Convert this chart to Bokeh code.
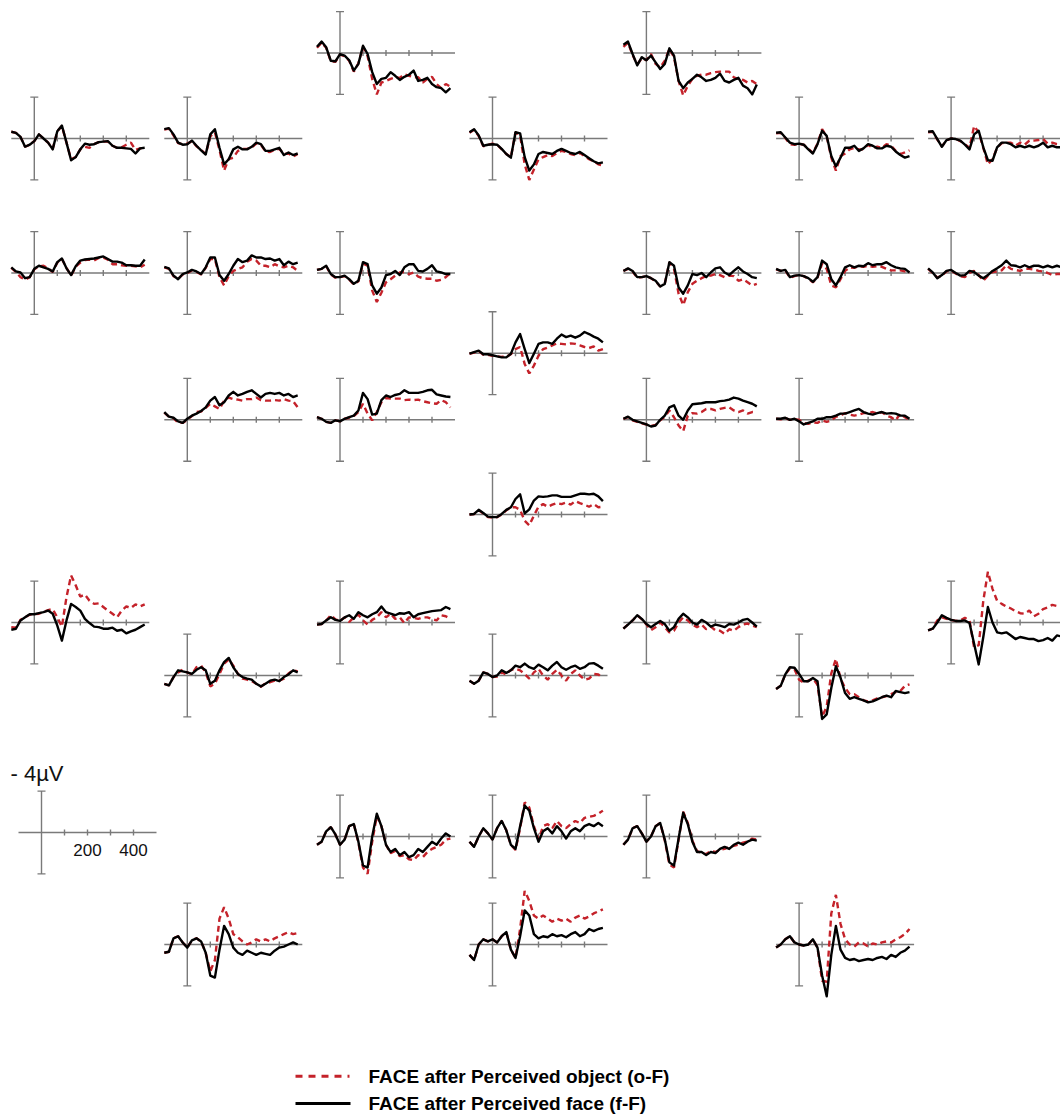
from bokeh.plotting import figure
from bokeh.models import Range1d, Spacer
from bokeh.layouts import row, column
from bokeh.embed import file_html
from bokeh.resources import INLINE
from bokeh.core.properties import value

# ---------------- data (µV, negative plotted up) ----------------
TIMES_MS = [-100, -80, -60, -40, -20, 0, 20, 40, 60, 80, 100, 120, 140, 160, 180,
            200, 220, 240, 260, 280, 300, 320, 340, 360, 380, 400, 420, 440, 460, 480]

# fF = FACE after Perceived face (black), oF = FACE after Perceived object (red dashed)
p01_fF = [-0.6, -1.1, -0.55, 0.75, 0.8, 0.1, 0.25, 0.7, 1.7, 1.05, -0.7, 0.1, 1.85, 3.0, 2.5, 2.4, 1.85, 2.2, 2.6, 2.3, 2.1, 1.7, 2.7, 2.6, 2.4, 3.0, 3.3, 3.4, 3.8, 3.4]
p01_oF = [-0.5, -1.0, -0.5, 0.8, 0.85, 0.15, 0.3, 0.75, 1.8, 1.0, -0.6, 0.3, 2.5, 4.0, 2.85, 2.7, 2.5, 2.35, 2.4, 2.05, 2.2, 2.35, 2.35, 2.85, 2.5, 2.3, 3.0, 3.4, 3.0, 3.25]
p02_fF = [-0.8, -1.1, 0.1, 1.2, 0.4, 0.7, 0.25, 0.9, 1.55, 1.05, -0.45, 0.25, 2.7, 3.4, 2.85, 2.5, 2.1, 2.35, 2.7, 2.6, 2.4, 2.0, 2.7, 2.85, 2.6, 2.4, 3.15, 3.4, 4.0, 3.05]
p02_oF = [-0.6, -1.0, 0.2, 1.1, 0.5, 0.7, 0.1, 1.05, 1.4, 0.75, -0.4, 0.4, 2.7, 4.1, 3.15, 2.5, 2.2, 2.1, 2.1, 1.95, 1.85, 1.8, 1.8, 1.8, 2.35, 2.5, 2.6, 2.85, 2.7, 3.0]
p03_fF = [-0.65, -0.55, -0.15, 0.8, 0.6, 0.25, -0.4, 0.0, 0.4, 1.05, -0.7, -1.25, 0.4, 2.1, 1.8, 1.05, 0.5, 0.6, 0.55, 0.35, 0.3, 0.25, 0.7, 0.9, 0.9, 0.95, 1.0, 1.45, 0.95, 0.9]
p03_oF = [-0.65, -0.55, -0.15, 0.8, 0.6, 0.25, -0.4, 0.0, 0.4, 1.0, -0.7, -1.2, 0.4, 2.0, 1.8, 1.05, 0.8, 0.9, 0.55, 0.35, 0.3, 0.3, 0.7, 0.9, 0.85, 0.6, 0.4, 1.1, 0.95, 0.9]
p04_fF = [-0.9, -1.0, -0.4, 0.4, 0.6, 0.55, 0.2, 0.7, 1.15, 1.55, -0.4, -0.9, 0.9, 2.5, 2.0, 1.05, 0.8, 1.05, 1.05, 0.8, 0.4, 0.55, 1.2, 1.2, 1.05, 0.9, 1.6, 1.35, 1.6, 1.45]
p04_oF = [-0.85, -0.95, -0.3, 0.45, 0.55, 0.5, 0.25, 0.75, 1.1, 1.5, -0.2, -0.6, 1.1, 3.1, 2.0, 1.85, 1.2, 1.0, 1.0, 0.85, 0.5, 0.6, 1.25, 1.3, 1.1, 1.0, 1.5, 1.45, 1.75, 1.5]
p05_fF = [-0.6, -0.9, -0.3, 0.7, 0.6, 0.55, 0.6, 1.0, 1.5, 1.85, -0.6, -0.5, 1.8, 3.1, 2.5, 1.5, 1.3, 1.4, 1.5, 1.2, 1.0, 1.2, 1.4, 1.5, 1.3, 1.6, 1.9, 2.2, 2.4, 2.3]
p05_oF = [-0.55, -0.85, -0.25, 0.75, 0.6, 0.5, 0.6, 1.05, 1.5, 1.8, -0.6, -0.3, 2.5, 4.0, 3.0, 2.0, 1.8, 1.6, 1.7, 1.4, 1.2, 1.3, 1.5, 1.6, 1.4, 1.7, 2.0, 2.2, 2.5, 2.6]
p06_fF = [-0.55, -0.6, -0.1, 0.4, 0.55, 0.5, 0.6, 1.05, 1.45, 0.55, -0.75, -0.25, 1.7, 2.7, 1.85, 0.9, 0.9, 0.7, 1.2, 0.95, 0.55, 0.7, 0.95, 0.95, 0.7, 0.8, 1.25, 1.6, 1.85, 1.7]
p06_oF = [-0.5, -0.55, -0.05, 0.55, 0.6, 0.5, 0.6, 1.0, 1.4, 0.5, -0.9, -0.2, 1.85, 3.1, 1.7, 1.45, 1.05, 0.9, 1.05, 1.05, 0.6, 0.9, 0.8, 0.9, 0.55, 0.7, 1.2, 1.5, 1.35, 1.15]
p07_fF = [-0.65, -0.7, 0.05, 0.8, 0.15, 0.0, 0.05, 0.2, 0.6, 1.05, -0.4, -0.75, 0.85, 2.1, 2.15, 0.85, 0.4, 0.4, 0.55, 0.85, 0.7, 0.85, 0.7, 0.85, 0.7, 0.4, 0.85, 0.7, 0.85, 0.85]
p07_oF = [-0.6, -0.65, 0.1, 0.75, 0.2, 0.0, 0.05, 0.25, 0.55, 0.9, -1.2, -0.6, 0.9, 2.5, 2.0, 0.9, 0.45, 0.4, 0.4, 0.7, 0.4, 0.6, 0.2, 0.2, 0.15, 0.05, 0.5, 0.4, 0.55, 0.55]
p08_fF = [-0.55, -0.15, -0.05, 0.5, 0.4, -0.4, -0.7, -0.55, -0.4, -0.15, -1.05, -1.4, -0.45, 0.2, -0.65, -1.2, -1.3, -1.35, -1.4, -1.5, -1.6, -1.35, -1.1, -1.1, -1.0, -0.75, -0.75, -0.7, -0.7, -1.3]
p08_oF = [-0.5, -0.1, 0.4, 0.65, 0.4, -0.35, -0.65, -0.7, -0.45, -0.1, -1.0, -1.35, -0.5, 0.25, -0.6, -1.0, -1.25, -1.3, -1.2, -1.45, -1.5, -1.3, -0.85, -0.85, -0.75, -0.7, -0.7, -0.65, -0.55, -0.8]
p09_fF = [-0.6, -0.45, 0.25, 0.6, 0.1, -0.05, -0.3, -0.15, 0.1, -0.55, -1.5, -1.5, 0.2, 0.75, 0.1, -0.7, -1.35, -1.05, -1.2, -1.7, -1.5, -1.5, -1.35, -1.4, -1.2, -1.35, -0.75, -1.1, -0.85, -1.0]
p09_oF = [-0.55, -0.4, 0.3, 0.55, 0.15, 0.0, -0.25, -0.1, 0.15, -0.5, -1.35, -1.35, 0.4, 1.2, 0.3, -0.2, -0.4, -0.55, -1.1, -1.35, -1.2, -0.7, -0.7, -0.55, -0.85, -0.65, -0.55, -0.7, -0.55, -0.2]
p10_fF = [-0.3, -0.4, -0.7, 0.1, 0.4, 0.4, 0.25, 0.6, 1.05, 0.75, -1.05, -0.85, 1.2, 2.0, 1.4, 0.2, 0.1, -0.2, 0.2, -0.55, -0.85, -0.85, -0.2, -0.15, -0.4, -0.75, -0.15, -0.05, 0.1, 0.1]
p10_oF = [-0.3, -0.4, -0.65, 0.15, 0.45, 0.4, 0.3, 0.65, 1.1, 0.8, -0.9, -0.7, 1.7, 2.8, 1.9, 0.9, 0.6, 0.25, -0.05, -0.1, 0.1, -0.05, 0.35, 0.5, 0.55, 0.55, 0.75, 0.65, 0.4, 0.0]
p11_fF = [-0.2, -0.45, -0.2, 0.4, 0.4, 0.3, 0.5, 0.75, 1.3, 1.05, -1.05, -0.7, 1.4, 2.0, 1.2, 0.1, 0.2, 0.0, 0.4, -0.05, -0.45, -0.55, -0.05, 0.2, -0.2, -0.55, -0.15, 0.1, 0.4, 0.5]
p11_oF = [-0.2, -0.4, -0.15, 0.45, 0.4, 0.3, 0.5, 0.8, 1.3, 1.0, -1.05, -0.4, 2.0, 3.1, 1.85, 1.05, 0.75, 0.5, 0.3, 0.25, 0.1, 0.2, 0.4, 0.25, 0.3, 0.75, 0.6, 0.9, 1.2, 1.05]
p12_fF = [-0.4, -0.2, -0.3, 0.4, 0.25, 0.2, 0.3, 0.5, 0.85, 0.4, -1.2, -0.85, 0.6, 1.2, 0.4, -0.55, -0.75, -0.55, -0.7, -0.65, -0.95, -0.75, -0.85, -0.85, -1.05, -0.75, -0.55, -0.45, -0.4, -0.05]
p12_oF = [-0.35, -0.2, -0.25, 0.45, 0.3, 0.2, 0.3, 0.55, 0.9, 0.45, -0.9, -0.4, 1.2, 1.4, 0.6, -0.2, -0.55, -0.5, -0.65, -0.6, -0.7, -0.6, -0.65, -0.6, -0.4, -0.25, -0.25, -0.25, -0.15, 0.0]
p13_fF = [-0.45, -0.05, 0.5, 0.2, -0.2, -0.3, 0.0, 0.25, 0.2, -0.2, -0.1, 0.25, 0.5, 0.2, -0.2, -0.45, -0.75, -1.2, -0.75, -0.7, -0.55, -0.75, -0.55, -0.7, -0.7, -0.55, -0.7, -0.55, -0.7, -0.55]
p13_oF = [-0.4, 0.0, 0.45, 0.25, -0.15, -0.25, 0.05, 0.3, 0.4, 0.0, -0.2, 0.2, 0.75, 0.25, -0.1, -0.15, -0.25, -0.75, -0.4, -0.3, -0.2, -0.4, -0.4, -0.35, -0.2, -0.15, 0.0, 0.2, 0.1, 0.1]
p14_fF = [0.05, -0.1, -0.25, 0.1, 0.1, 0.2, 0.3, 0.4, 0.4, 0.05, -1.05, -1.85, -0.4, 0.95, 0.05, -0.9, -1.05, -1.05, -0.9, -1.4, -1.8, -1.55, -1.7, -1.5, -1.7, -2.05, -1.85, -1.6, -1.4, -1.05]
p14_oF = [0.05, -0.05, -0.2, 0.15, 0.15, 0.25, 0.3, 0.35, 0.35, 0.1, -0.4, -0.6, 1.05, 1.95, 1.2, 0.25, -0.4, -0.55, -0.75, -0.95, -0.9, -0.85, -0.95, -0.9, -0.75, -0.6, -0.5, -0.65, -0.25, -0.4]
p15_fF = [-0.75, -0.3, -0.2, 0.15, 0.3, -0.1, -0.4, -0.6, -0.85, -1.2, -1.85, -2.2, -1.4, -1.7, -2.35, -2.7, -2.35, -2.5, -2.7, -2.85, -2.5, -2.15, -2.5, -2.6, -2.5, -2.6, -2.35, -2.5, -2.2, -2.35]
p15_oF = [-0.7, -0.3, -0.15, 0.3, 0.3, 0.0, -0.35, -0.75, -0.8, -1.15, -1.55, -1.3, -1.05, -1.85, -2.15, -2.0, -1.95, -1.85, -2.0, -2.0, -2.15, -1.9, -1.85, -1.85, -1.9, -1.85, -2.0, -1.85, -1.8, -1.2]
p16_fF = [-0.25, -0.1, 0.2, 0.3, 0.05, 0.15, -0.1, -0.25, -0.4, -0.9, -2.6, -2.0, -0.5, -0.6, -1.9, -2.35, -2.2, -2.4, -2.5, -2.85, -2.6, -2.6, -2.6, -2.7, -2.85, -2.9, -2.45, -2.35, -2.25, -2.2]
p16_oF = [-0.25, -0.1, 0.2, 0.3, 0.05, 0.15, -0.1, -0.2, -0.35, -0.75, -1.55, -0.6, 0.05, -0.75, -1.7, -2.1, -2.05, -2.05, -2.05, -1.9, -1.95, -1.9, -1.95, -1.8, -1.7, -1.6, -1.55, -1.9, -1.7, -1.2]
p17_fF = [-0.1, -0.3, 0.0, 0.15, 0.3, 0.45, 0.65, 0.55, 0.0, -0.4, -1.2, -1.4, -0.4, 0.0, -0.9, -1.5, -1.55, -1.6, -1.7, -1.7, -1.7, -1.8, -1.85, -1.95, -2.15, -2.05, -1.85, -1.7, -1.55, -1.3]
p17_oF = [-0.1, -0.25, 0.05, 0.2, 0.35, 0.45, 0.6, 0.5, 0.05, -0.3, -0.9, -0.25, 0.55, 1.1, -0.4, -0.65, -0.6, -0.75, -1.05, -1.05, -0.9, -1.05, -1.15, -1.2, -0.9, -0.75, -0.9, -0.6, -0.75, -0.75]
p18_fF = [-0.1, -0.1, -0.2, 0.0, -0.1, 0.15, 0.45, 0.3, 0.15, -0.1, -0.1, -0.25, -0.25, -0.4, -0.6, -0.6, -0.75, -0.9, -1.05, -0.75, -0.6, -0.5, -0.65, -0.75, -0.6, -0.65, -0.6, -0.4, -0.4, -0.1]
p18_oF = [-0.1, -0.05, -0.15, 0.0, -0.05, 0.0, 0.3, 0.4, 0.25, 0.3, 0.05, 0.2, 0.05, -0.3, -0.4, -0.65, -0.5, -0.4, -0.5, -0.65, -0.65, -0.75, -0.6, -0.75, -0.4, -0.25, 0.05, -0.6, -0.25, 0.0]
p19_fF = [0.0, -0.05, -0.45, -0.15, 0.2, 0.25, 0.25, -0.05, -0.45, -0.7, -1.5, -1.95, -0.1, -0.5, -1.35, -1.75, -1.7, -1.75, -1.85, -1.85, -1.7, -1.7, -1.7, -1.85, -2.0, -2.0, -1.95, -2.0, -1.75, -1.3]
p19_oF = [0.0, -0.05, -0.4, -0.1, 0.25, 0.3, 0.25, 0.0, -0.4, -0.7, -0.7, -0.45, 0.6, 1.05, 0.1, -0.75, -1.0, -0.75, -0.95, -1.1, -1.0, -1.15, -0.95, -1.3, -1.1, -0.95, -0.75, -1.0, -0.7, -0.75]
p20_fF = [0.7, 0.6, -0.2, -0.5, -0.8, -0.8, -0.9, -1.0, -1.15, -0.85, 0.3, 1.75, -0.2, -1.8, -1.5, -1.15, -0.35, 0.05, 0.4, 0.45, 0.6, 0.6, 0.5, 0.8, 0.7, 1.05, 0.85, 0.7, 0.45, 0.2]
p20_oF = [0.45, 0.5, -0.25, -0.5, -0.75, -0.8, -0.85, -1.0, -1.2, -1.3, -0.5, 0.4, -2.45, -4.55, -3.6, -2.5, -2.7, -2.1, -1.8, -1.85, -1.5, -1.15, -0.85, -0.5, -1.15, -1.55, -1.4, -1.75, -1.55, -1.75]
p21_fF = [0.2, 0.15, -0.2, -0.5, -0.25, -0.15, -0.5, -0.7, -0.35, -1.0, -0.7, -0.5, -0.8, -1.0, -1.55, -1.0, -0.85, -0.7, -0.9, -0.85, -1.0, -0.5, -0.8, -0.9, -1.0, -1.1, -1.15, -1.2, -1.5, -1.3]
p21_oF = [0.2, 0.15, -0.2, -0.7, -0.3, -0.15, -0.5, -0.05, -0.5, -0.75, -0.2, 0.2, -0.25, -0.5, -1.0, -0.5, -0.85, -0.35, -0.5, 0.05, -0.5, -0.45, -0.35, -0.5, -0.5, -0.35, -0.2, -0.7, -0.6, -0.35]
p22_fF = [0.6, 0.2, -0.2, -0.7, -0.35, 0.15, 0.45, 0.15, -0.15, 0.15, 0.8, 0.45, -0.35, -0.85, -0.5, 0.0, 0.2, -0.25, 0.0, 0.4, 0.2, 0.3, 0.45, 0.15, 0.2, 0.0, -0.25, -0.35, 0.0, 0.4]
p22_oF = [0.6, 0.2, -0.2, -0.7, -0.3, 0.2, 0.75, 0.45, 0.0, 0.45, 0.95, 0.8, 0.0, -0.5, -0.2, 0.2, 0.45, 0.2, 0.65, 0.4, 0.75, 0.8, 1.1, 0.65, 0.8, 0.45, 0.2, 0.1, 0.3, 0.45]
p23_fF = [0.75, 0.6, 0.0, -0.7, -0.45, -0.25, -0.15, -0.15, -0.2, 0.05, 2.05, 4.05, 1.4, -1.5, 0.0, 0.95, 1.05, 0.95, 1.25, 1.6, 1.4, 1.5, 1.6, 1.6, 1.8, 1.7, 1.5, 1.75, 1.25, 1.35]
p23_oF = [0.75, 0.6, -0.2, -0.5, -0.35, -0.25, -0.15, -0.2, -0.45, -0.2, 2.4, 2.2, -2.1, -4.9, -3.25, -2.1, -1.8, -1.55, -1.35, -1.1, -0.9, -0.85, -1.15, -0.6, -0.85, -1.3, -1.45, -1.7, -1.6, -1.65]
p24_fF = [0.8, 0.95, 0.15, -0.5, -0.4, -0.3, -0.15, -0.55, -0.8, -0.5, 0.8, 0.5, -0.5, -1.3, -1.7, -0.8, -0.15, 0.15, 0.3, 0.4, 0.8, 1.05, 0.8, 0.5, 0.4, 0.55, 0.15, -0.1, -0.5, -0.3]
p24_oF = [0.8, 0.95, 0.15, -0.3, -0.55, -0.3, -0.1, -0.8, -0.95, -0.3, 1.05, 0.8, -0.15, -1.15, -1.55, -0.95, -0.15, 0.3, 0.4, 0.55, 0.8, 1.1, 0.75, 0.65, 0.5, 0.5, 0.3, -0.2, -0.5, -0.4]
p25_fF = [0.5, 0.8, 0.5, -0.3, -0.15, 0.15, 0.0, -0.5, -0.25, -0.5, -0.95, -0.8, -1.15, -0.8, -0.65, -1.05, -0.8, -0.5, -0.95, -1.3, -0.8, -0.55, -0.8, -0.95, -0.65, -0.8, -1.15, -1.2, -0.95, -0.65]
p25_oF = [0.5, 0.8, 0.5, -0.3, -0.15, 0.15, 0.1, -0.3, -0.1, -0.55, -0.65, -0.5, -0.15, 0.3, -0.3, -0.65, 0.0, 0.4, -0.15, -0.55, 0.0, 0.5, -0.15, -0.5, 0.0, 0.4, 0.3, -0.15, -0.1, 0.25]
p26_fF = [1.3, 1.0, -0.1, -0.8, -0.75, -0.15, 0.55, 0.55, 0.25, 0.55, 4.2, 3.75, 1.2, -0.9, 0.2, 1.7, 2.25, 2.1, 2.25, 2.4, 2.6, 2.5, 2.3, 2.1, 1.95, 2.1, 1.5, 1.6, 1.7, 1.6]
p26_oF = [1.3, 1.0, -0.1, -0.7, -0.6, 0.4, 0.7, 0.5, 0.3, 0.9, 4.0, 3.0, -0.2, -1.6, 0.3, 1.2, 1.8, 1.8, 2.1, 2.4, 2.5, 2.4, 2.2, 2.1, 2.0, 1.8, 1.6, 1.5, 1.0, 0.85]
p27_fF = [0.8, 0.5, -0.5, -0.9, -0.2, 0.8, 0.3, -1.0, -1.2, 0.5, 2.8, 3.0, 0.0, -2.2, -1.0, 0.8, 1.5, 1.2, 1.8, 1.5, 2.0, 1.8, 1.2, 1.5, 1.0, 0.5, 0.8, 0.2, -0.3, 0.0]
p27_oF = [0.8, 0.5, -0.5, -0.9, -0.2, 0.8, 0.3, -1.0, -1.2, 0.6, 3.0, 3.6, 0.5, -2.0, -1.0, 0.8, 1.6, 1.4, 1.9, 1.8, 2.2, 2.3, 1.8, 2.0, 1.5, 1.2, 1.0, 0.8, 0.3, 0.2]
p28_fF = [0.5, 1.0, 0.0, -0.8, -0.3, 0.3, -0.8, -1.5, -0.6, 0.8, 1.2, -1.0, -3.0, -2.5, -0.8, 0.5, -0.5, -0.8, -0.3, -1.0, -0.5, 0.2, -0.5, -0.8, -0.5, -1.0, -1.2, -1.0, -1.3, -1.0]
p28_oF = [0.5, 1.0, 0.0, -0.8, -0.3, 0.3, -0.8, -1.5, -0.6, 0.8, 1.3, -0.8, -3.3, -2.8, -1.0, 0.3, -1.0, -1.2, -0.8, -1.5, -1.0, -0.8, -1.2, -1.5, -1.3, -1.8, -1.9, -2.0, -2.2, -2.5]
p29_fF = [0.8, 0.3, -0.8, -1.0, -0.3, 0.5, 0.0, -1.0, -1.3, 0.3, 2.5, 2.8, 0.2, -2.3, -1.2, 0.5, 1.5, 1.5, 1.8, 1.5, 1.6, 1.2, 1.0, 1.2, 0.8, 0.6, 0.8, 0.5, 0.3, 0.4]
p29_oF = [0.8, 0.3, -0.8, -1.0, -0.3, 0.5, 0.0, -1.0, -1.3, 0.4, 2.7, 3.0, 0.3, -2.4, -1.3, 0.4, 1.4, 1.6, 1.7, 1.4, 1.5, 1.3, 1.2, 1.0, 0.9, 0.8, 0.6, 0.5, 0.2, 0.3]
p30_fF = [0.8, 0.7, -0.6, -0.8, -0.2, 0.3, -0.4, -0.6, -0.3, 0.8, 3.0, 3.2, 0.5, -1.8, -1.0, 0.3, 0.8, 1.0, 0.6, 0.8, 1.0, 0.8, 0.9, 1.0, 0.6, 0.3, 0.2, 0.0, -0.2, 0.0]
p30_oF = [0.8, 0.7, -0.6, -0.8, -0.2, 0.3, -0.4, -0.6, -0.3, 0.8, 2.6, 1.5, -2.5, -3.6, -2.5, -1.0, -0.7, -0.3, 0.0, -0.2, -0.5, -0.3, -0.5, -0.3, -0.6, -0.8, -1.0, -1.2, -1.0, -1.1]
p31_fF = [1.0, 1.5, 0.0, -0.5, -0.3, -0.5, -0.2, -0.8, -1.2, 0.5, 1.3, -0.8, -3.3, -2.8, -1.0, -0.6, -0.8, -0.7, -1.0, -0.8, -0.9, -0.7, -1.0, -1.2, -0.8, -1.0, -1.5, -1.3, -1.5, -1.6]
p31_oF = [1.0, 1.5, 0.0, -0.5, -0.3, -0.5, -0.2, -0.8, -1.2, 0.5, 1.3, -1.5, -5.2, -4.2, -2.8, -2.5, -2.8, -2.5, -2.2, -2.5, -2.3, -2.5, -2.2, -2.6, -2.8, -2.5, -2.7, -3.0, -3.2, -3.4]
p32_fF = [0.3, 0.0, -0.5, -0.8, -0.2, 0.0, 0.1, 0.0, -0.5, 0.3, 3.0, 5.0, 1.0, -1.8, 0.5, 1.3, 1.5, 1.4, 1.6, 1.5, 1.4, 1.5, 1.3, 1.2, 1.4, 1.0, 1.2, 0.8, 0.6, 0.2]
p32_oF = [0.3, 0.0, -0.5, -0.8, -0.2, 0.0, 0.1, 0.0, -0.5, 0.3, 3.5, 3.6, -3.0, -4.8, -2.0, -0.5, 0.0, 0.2, -0.2, -0.1, 0.2, -0.1, 0.0, -0.2, -0.3, -0.2, -0.5, -0.7, -1.0, -1.5]

CHANNELS = {
    "p01": (p01_oF, p01_fF), "p02": (p02_oF, p02_fF), "p03": (p03_oF, p03_fF),
    "p04": (p04_oF, p04_fF), "p05": (p05_oF, p05_fF), "p06": (p06_oF, p06_fF),
    "p07": (p07_oF, p07_fF), "p08": (p08_oF, p08_fF), "p09": (p09_oF, p09_fF),
    "p10": (p10_oF, p10_fF), "p11": (p11_oF, p11_fF), "p12": (p12_oF, p12_fF),
    "p13": (p13_oF, p13_fF), "p14": (p14_oF, p14_fF), "p15": (p15_oF, p15_fF),
    "p16": (p16_oF, p16_fF), "p17": (p17_oF, p17_fF), "p18": (p18_oF, p18_fF),
    "p19": (p19_oF, p19_fF), "p20": (p20_oF, p20_fF), "p21": (p21_oF, p21_fF),
    "p22": (p22_oF, p22_fF), "p23": (p23_oF, p23_fF), "p24": (p24_oF, p24_fF),
    "p25": (p25_oF, p25_fF), "p26": (p26_oF, p26_fF), "p27": (p27_oF, p27_fF),
    "p28": (p28_oF, p28_fF), "p29": (p29_oF, p29_fF), "p30": (p30_oF, p30_fF),
    "p31": (p31_oF, p31_fF), "p32": (p32_oF, p32_fF),
}

AXIS_SPAN_MS = [-100, 500]
TICKS_MS = [100, 200, 300, 400]
SCALE_UV = 4
SCALE_TICK_VALUES = [200, 400]
SCALE_TICK_LABELS = ["200", "400"]
SCALE_LABEL = "- 4µV"
LEGEND_LABELS = ["FACE after Perceived object (o-F)", "FACE after Perceived face (f-F)"]

# ---------------- layout / style ----------------
PX_MS = 0.23          # pixels per ms
PX_UV = 10.35         # pixels per µV
PAGE = 0
COL_LEFT = [0, 161, 314, 467, 620, 773, 926]
COL_W = [161, 153, 153, 153, 153, 153, 134]
ZERO_X_PAGE = [33.8, 186.8, 339.5, 492.0, 645.9, 798.6, 950.6]
COLS_H = 1050
LEG_H = 66

# panel -> (column, page-y of zero line)
LAYOUT = {
    "p01": (2, 52.5), "p02": (4, 52.5),
    "p03": (0, 138), "p04": (1, 138), "p05": (3, 138), "p06": (5, 138), "p07": (6, 138),
    "p08": (0, 272.5), "p09": (1, 272.5), "p10": (2, 272.5), "p11": (4, 272.5),
    "p12": (5, 272.5), "p13": (6, 272.5),
    "p14": (3, 352.7),
    "p15": (1, 419.3), "p16": (2, 419.3), "p17": (4, 419.3), "p18": (5, 419.3),
    "p19": (3, 514),
    "p20": (0, 622), "p21": (2, 622), "p22": (4, 622), "p23": (6, 622),
    "p24": (1, 675), "p25": (3, 675), "p26": (5, 675),
    "p27": (2, 836), "p28": (3, 836), "p29": (4, 836),
    "p30": (1, 944), "p31": (3, 944), "p32": (5, 944),
}
SCALE_LAYOUT = (0, 832, 41.0)

RED = "#c4222a"
AXIS_COLOR = "#7a7a7a"
FONT = "Liberation Sans"


def base_fig(w, top, bot, yc, zero_x):
    xr = Range1d(-zero_x / PX_MS, (w - zero_x) / PX_MS)
    yr = Range1d((bot - yc) / PX_UV, -(yc - top) / PX_UV)
    p = figure(width=w, height=bot - top, x_range=xr, y_range=yr,
               output_backend="svg", toolbar_location=None,
               x_axis_type=None, y_axis_type=None, min_border=0,
               outline_line_color=None, background_fill_color=None,
               border_fill_color=None)
    p.grid.visible = False
    cap = 4 / PX_MS
    tick = 3 / PX_UV
    kw = dict(line_color=AXIS_COLOR, line_width=1.4)
    p.segment(x0=[AXIS_SPAN_MS[0]], y0=[0], x1=[AXIS_SPAN_MS[1]], y1=[0], **kw)
    p.segment(x0=[0], y0=[-SCALE_UV], x1=[0], y1=[SCALE_UV], **kw)
    p.segment(x0=[-cap, -cap], y0=[-SCALE_UV, SCALE_UV], x1=[cap, cap],
              y1=[-SCALE_UV, SCALE_UV], **kw)
    p.segment(x0=TICKS_MS, y0=[-tick] * len(TICKS_MS), x1=TICKS_MS,
              y1=[tick] * len(TICKS_MS), **kw)
    return p


def data_panel(key, w, top, bot, yc, zero_x):
    p = base_fig(w, top, bot, yc, zero_x)
    o_f, f_f = CHANNELS[key]
    p.line(TIMES_MS, o_f, line_color=RED, line_width=2.4, line_dash="6 4")
    p.line(TIMES_MS, f_f, line_color="black", line_width=2.4, line_join="round")
    return p


def scale_panel(w, top, bot, yc, zero_x):
    p = base_fig(w, top, bot, yc, zero_x)
    p.text(x=SCALE_TICK_VALUES, y=[1.65] * len(SCALE_TICK_VALUES), text=SCALE_TICK_LABELS,
           text_font=value(FONT), text_font_size="17px", text_align="center",
           text_baseline="middle", text_color="#111111")
    p.text(x=[-31 / PX_MS], y=[-5.7], text=[SCALE_LABEL], text_font=value(FONT),
           text_font_size="22px", text_align="left", text_baseline="middle",
           text_color="#111111")
    return p


columns = []
for c in range(7):
    items = [(yc, "data", k, 62, 62) for k, (cc, yc) in LAYOUT.items() if cc == c]
    if c == SCALE_LAYOUT[0]:
        items.append((SCALE_LAYOUT[1], "scale", None, 92, 70))
    items.sort(key=lambda t: t[0])
    ext = [[it[0] - it[3], it[0] + it[4]] for it in items]
    for i in range(len(items) - 1):
        if ext[i][1] > ext[i + 1][0]:
            mid = (items[i][0] + items[i + 1][0]) / 2
            ext[i][1] = mid
            ext[i + 1][0] = mid
    ext[0][0] = max(ext[0][0], PAGE)
    ext = [[int(round(a)), int(round(b))] for a, b in ext]
    ext[-1][1] = min(ext[-1][1], PAGE + COLS_H)
    w = COL_W[c]
    children = []
    cursor = PAGE
    for it, (top, bot) in zip(items, ext):
        if top > cursor:
            children.append(Spacer(width=w, height=top - cursor))
        if it[1] == "data":
            zero_x = ZERO_X_PAGE[c] - COL_LEFT[c]
            children.append(data_panel(it[2], w, top, bot, it[0], zero_x))
        else:
            zero_x = SCALE_LAYOUT[2] - COL_LEFT[c]
            children.append(scale_panel(w, top, bot, it[0], zero_x))
        cursor = bot
    if cursor < PAGE + COLS_H:
        children.append(Spacer(width=w, height=PAGE + COLS_H - cursor))
    columns.append(column(*children))

# legend strip (pixel coordinates of the strip)
leg = figure(width=sum(COL_W), height=LEG_H, x_range=Range1d(0, sum(COL_W)),
             y_range=Range1d(LEG_H, 0), output_backend="svg", toolbar_location=None,
             x_axis_type=None, y_axis_type=None, min_border=0,
             outline_line_color=None, background_fill_color=None, border_fill_color=None)
leg.grid.visible = False
row_y = [25.7, 53.0]
leg.line([295, 349], [row_y[0], row_y[0]], line_color=RED, line_width=3, line_dash="7 6")
leg.line([295, 350], [row_y[1], row_y[1]], line_color="black", line_width=3)
leg.text(x=[368, 368], y=row_y, text=LEGEND_LABELS, text_font=value(FONT),
         text_font_style="bold", text_font_size="19px", text_baseline="middle",
         text_align="left", text_color="black")

layout = column(row(*columns), leg)
open("out.html", "w").write(file_html(layout, INLINE))
